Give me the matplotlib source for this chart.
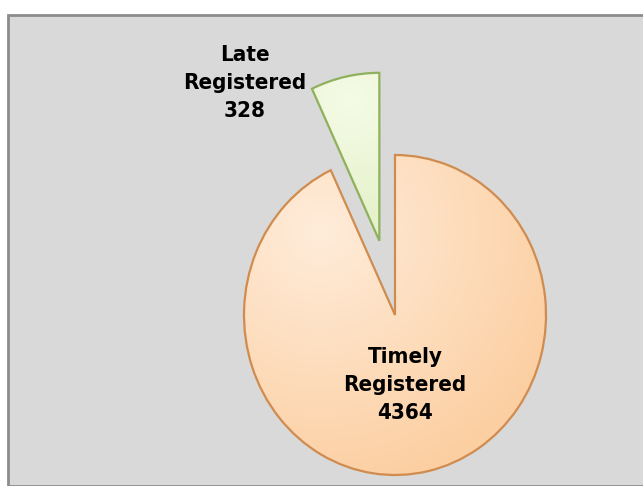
import numpy as np
import matplotlib.pyplot as plt
from matplotlib.colors import LinearSegmentedColormap

# data
categories = ['Late\nRegistered', 'Timely\nRegistered']
values = [328, 4364]

W, H = 643, 486
cx, cy = 395, 315          # pie centre in pixels (from top-left)
rx, ry = 151, 160          # horizontal / vertical radius in pixels
k = ry / rx                # vertical stretch

fig = plt.figure(figsize=(W / 100, H / 100), dpi=100)
fig.patch.set_facecolor('white')
ax = fig.add_axes([0, 0, 1, 1])
ax.set_axis_off()

# grey plot area with border
Ht = H / k
ax.add_patch(plt.Rectangle((8, 0), W, (H - 15) / k, facecolor='#D9D9D9',
                           edgecolor='#8C8C8C', linewidth=2, zorder=0))

# explode is in data units here (radius is not 1)
wedges, _ = ax.pie(values, startangle=90, counterclock=True,
                   explode=[0.475 * rx, 0], radius=rx,
                   center=(cx, (H - cy) / k), frame=True,
                   wedgeprops=dict(linewidth=1.6))
ax.set_aspect('auto')
ax.set_xlim(0, W)
ax.set_ylim(0, Ht)
ax.set_axis_off()
wedges[0].set_radius(rx * 1.05)

face = [('#F5FBE6', '#D3E8AC'), ('#FFECDA', '#FCCFA2')]
edge = ['#8FB05C', '#D08C4F']
hi = [(350, 100), (320, 230)]  # highlight spots in pixels
yy, xx = np.mgrid[0:H, 0:W]
for w, f, e, h in zip(wedges, face, edge, hi):
    w.set_facecolor('none')
    w.set_edgecolor(e)
    w.set_zorder(3)
    d = np.hypot(xx - h[0], yy - h[1])
    d = np.clip(d / 260.0, 0, 1)
    cmap = LinearSegmentedColormap.from_list('g', [f[0], f[1]])
    im = ax.imshow(d, cmap=cmap, extent=[0, W, 0, Ht], origin='upper',
                   aspect='auto', zorder=2, vmin=0, vmax=1)
    im.set_clip_path(w)

# labels
font = dict(family=['DejaVu Sans Condensed', 'Liberation Sans Narrow', 'DejaVu Sans'],
            fontstretch='condensed', fontweight='bold',
            fontsize=16, ha='center', va='center', linespacing=1.5, zorder=5)
ax.text(245, (H - 83) / k, f'{categories[0]}\n{values[0]}', **font)
ax.text(405, (H - 385) / k, f'{categories[1]}\n{values[1]}', **font)

fig.savefig('out.png', dpi=100, facecolor='white')
